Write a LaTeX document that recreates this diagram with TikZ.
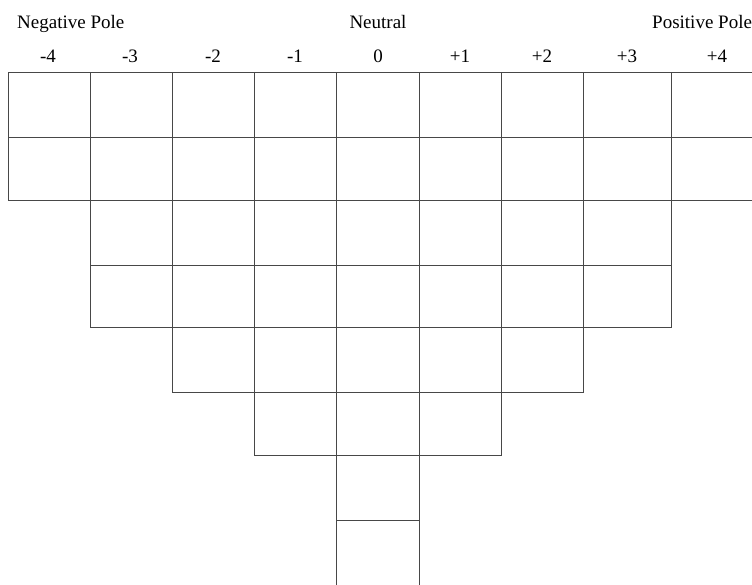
\documentclass[tikz,border=0pt]{standalone}
\usepackage{fontspec}
\setmainfont{Liberation Serif}
\begin{document}
\begin{tikzpicture}[x=1pt,y=-1pt,
  cell/.style={draw=black!72, line width=0.9pt},
  lab/.style={anchor=base, inner sep=0pt, font=\fontsize{19}{22}\selectfont}]
\useasboundingbox (0,0) rectangle (752,584);
\def\xs{{8.3,90.3,172.3,254.5,336.3,419.5,501.7,583.3,671.3,765}}
\def\ys{{72.3,137.3,200,265.3,327,392,455,520,592}}
\foreach \r/\a/\b in {0/0/8,1/0/8,2/1/7,3/1/7,4/2/6,5/3/5,6/4/4,7/4/4} {
  \foreach \c in {\a,...,\b} {
    \pgfmathsetmacro\xl{\xs[\c]}
    \pgfmathsetmacro\xr{\xs[\c+1]}
    \pgfmathsetmacro\yt{\ys[\r]}
    \pgfmathsetmacro\yb{\ys[\r+1]}
    \draw[cell] (\xl,\yt) rectangle (\xr,\yb);
  }
}
\node[lab, anchor=base west] (neg) at (17,28) {Negative Pole};
\node[lab] (neu) at (378,28) {Neutral};
\node[lab, anchor=base west] (pos) at (652,28) {Positive Pole};
\foreach \t/\x [count=\i] in {-4/48,-3/130,-2/213,-1/295,0/378,+1/460,+2/542,+3/627,+4/717} {
  \node[lab] (l\i) at (\x,62) {\t};
}
\end{tikzpicture}
\end{document}
